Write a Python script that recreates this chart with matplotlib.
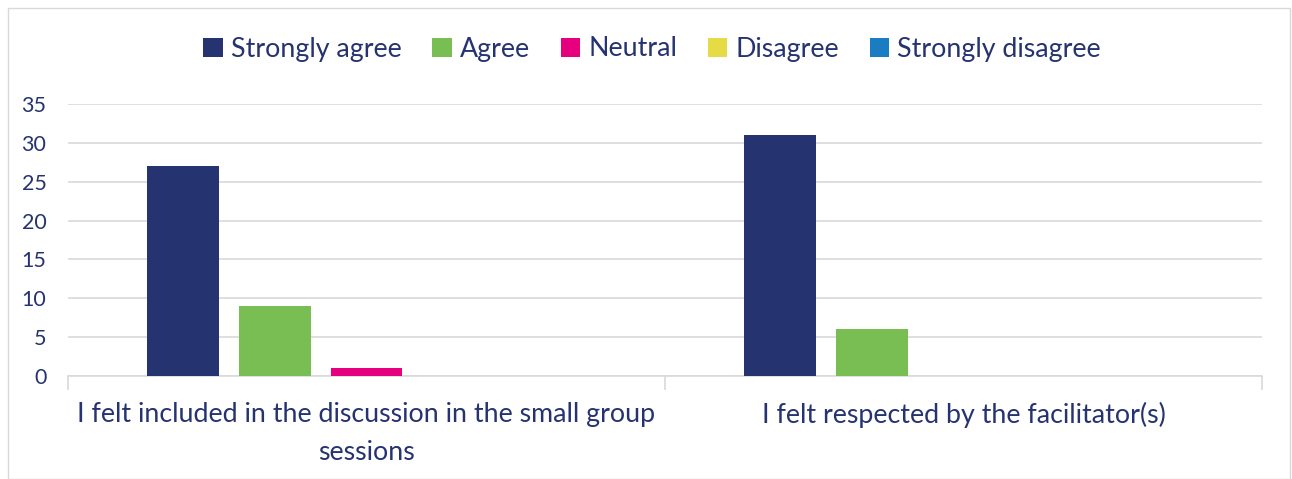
import matplotlib
matplotlib.use("Agg")
import matplotlib.pyplot as plt
from matplotlib.patches import Rectangle
import numpy as np

categories = ["I felt included in the discussion in the small group\nsessions",
              "I felt respected by the facilitator(s)"]
series_names = ["Strongly agree", "Agree", "Neutral", "Disagree", "Strongly disagree"]
strongly_agree = [27, 31]
agree = [9, 6]
neutral = [1, 0]
disagree = [0, 0]
strongly_disagree = [0, 0]
colors = ["#253370", "#78BE53", "#E6007E", "#E5DC45", "#1A7DC1"]
yticks = [0, 5, 10, 15, 20, 25, 30, 35]

values = [strongly_agree, agree, neutral, disagree, strongly_disagree]
text_color = "#253370"
plt.rcParams['font.family'] = ['Lato', 'DejaVu Sans']

fig = plt.figure(figsize=(12.92, 4.79), dpi=100)
fig.patches.append(Rectangle((8/1292, 0), (1290-8)/1292, 1-8/479, transform=fig.transFigure,
                             fill=False, edgecolor="#d9d9d9", linewidth=1.0))
ax = fig.add_axes([68/1292, 1-376/479, (1262-68)/1292, (376-104)/479])

x = np.arange(len(categories)) + 0.5
bw = 0.1206
step = 0.1533
for i, (name, vals) in enumerate(zip(series_names, values)):
    off = (i - 2) * step
    ax.bar(x + off, vals, width=bw, color=colors[i], label=name, zorder=3)

ax.set_xlim(0, len(categories))
ax.set_ylim(0, 35)
ax.set_yticks(yticks)
ax.set_yticklabels([str(t) for t in yticks], fontsize=15.5, color=text_color)
ax.grid(axis='y', color="#d9d9d9", linewidth=1.2, zorder=0)
ax.set_axisbelow(True)
for s in ["top", "right", "left"]:
    ax.spines[s].set_visible(False)
ax.spines["bottom"].set_color("#d9d9d9")
ax.spines["bottom"].set_linewidth(1.2)
ax.tick_params(axis='y', length=0, pad=15.5)
ax.set_xticks(np.arange(len(categories) + 1))
ax.set_xticklabels([])
ax.tick_params(axis='x', length=10, color="#d9d9d9", width=1.2)
for xi, lab in zip(x, categories):
    ax.text(xi, -3.3, lab, ha='center', va='top', fontsize=19.3, color=text_color,
            linespacing=1.65, transform=ax.transData)

leg = fig.legend(loc='center', bbox_to_anchor=(652/1292, 1-49/479), ncol=5, frameon=False,
                 fontsize=19.3, handlelength=0.72, handleheight=0.72, handletextpad=0.3,
                 columnspacing=1.15)
for t in leg.get_texts():
    t.set_color(text_color)

fig.savefig("out.png", dpi=100)
